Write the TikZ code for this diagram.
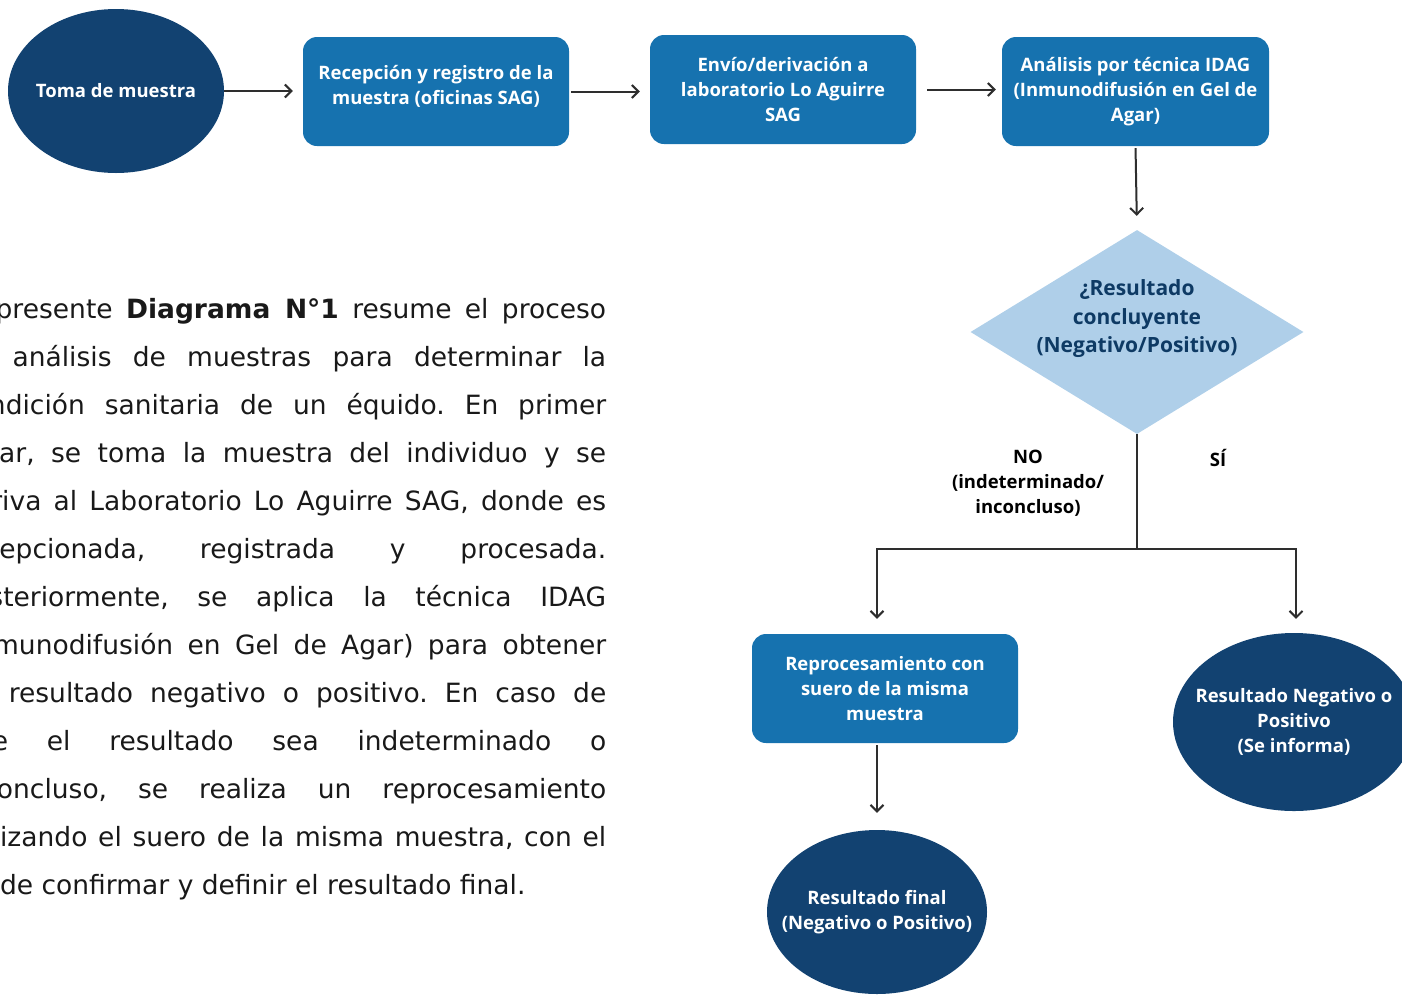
\documentclass[tikz,border=0pt]{standalone}
\usepackage{fontspec}
\usepackage{tikz}
\usetikzlibrary{shapes.geometric,arrows.meta}
\setmainfont{DejaVu Sans}
\newfontfamily\boxfont{Open Sans}
\definecolor{navy}{HTML}{124271}
\definecolor{midblue}{HTML}{1672AF}
\definecolor{paleblue}{HTML}{AFCFE9}
\definecolor{qtext}{HTML}{0E3A64}
\definecolor{linegray}{HTML}{2E2E2E}

\begin{document}
\begin{tikzpicture}[x=1pt,y=-1pt,
  oval/.style={ellipse,fill=navy,text=white,inner xsep=-30pt,inner ysep=-10pt,align=center,font=\boxfont\bfseries\fontsize{18.5}{25}\selectfont},
  stepbox/.style={rectangle,rounded corners=14pt,fill=midblue,text=white,minimum width=266pt,minimum height=109pt,inner sep=0pt,align=center,font=\boxfont\bfseries\fontsize{18.5}{25}\selectfont},
  branchlabel/.style={align=center,text=black,font=\boxfont\bfseries\fontsize{18.5}{25}\selectfont},
  arr/.style={-{Straight Barb[length=6.5pt,width=13pt]},draw=linegray,line width=2pt},
  link/.style={draw=linegray,line width=2pt}]
\useasboundingbox (0,0) rectangle (1402,994);
\node[anchor=base west,text width=648pt,align=justify,inner sep=0pt,text=black!90,font=\fontsize{26.5}{48}\selectfont] (texto) at (-42,318)
{\frenchspacing\tolerance=10000\hbadness=10000\hyphenpenalty=10000
El presente \textbf{Diagrama N°1} resume el proceso\linebreak
de análisis de muestras para determinar la\linebreak
condición sanitaria de un équido. En primer\linebreak
lugar, se toma la muestra del individuo y se\linebreak
deriva al Laboratorio Lo Aguirre SAG, donde es\linebreak
recepcionada, registrada y procesada.\linebreak
Posteriormente, se aplica la técnica IDAG\linebreak
(Inmunodifusión en Gel de Agar) para obtener\linebreak
un resultado negativo o positivo. En caso de\linebreak
que el resultado sea indeterminado o\linebreak
inconcluso, se realiza un reprocesamiento\linebreak
utilizando el suero de la misma muestra, con el\linebreak
fin de confirmar y definir el resultado final.};
\node[oval,minimum width=216pt,minimum height=164pt] (toma) at (116,91) {Toma de muestra};
\node[stepbox,text depth=14pt] (recep) at (436,91.5) {Recepción y registro de la\\muestra (oficinas SAG)};
\node[stepbox] (envio) at (783,89.5) {Envío/derivación a\\laboratorio Lo Aguirre\\SAG};
\node[stepbox,minimum width=267pt] (idag) at (1135.5,91.5) {Análisis por técnica IDAG\\(Inmunodifusión en Gel de\\Agar)};
\node[diamond,fill=paleblue,minimum width=333pt,minimum height=204pt,inner sep=0pt] (check) at (1137,332) {};
\node[align=center,text=qtext,font=\boxfont\bfseries\fontsize{21}{28.5}\selectfont] (checktext) at (1137,319) {¿Resultado\\concluyente\\(Negativo/Positivo)};
\node[stepbox] (reproc) at (885,688.5) {Reprocesamiento con\\suero de la misma\\muestra};
\node[oval,minimum width=242pt,minimum height=178pt] (informe) at (1294,722) {Resultado Negativo o\\Positivo\\(Se informa)};
\node[oval,minimum width=220pt,minimum height=164pt] (final) at (877,912) {Resultado final\\(Negativo o Positivo)};
\node[branchlabel] (nolabel) at (1028,483) {NO\\(indeterminado/\\inconcluso)};
\node[branchlabel] (silabel) at (1218,458) {SÍ};
\coordinate (split) at (1137,549);
\coordinate (nobranch) at (877,549);
\coordinate (sibranch) at (1296,549);
\draw[arr,shorten >=10pt] (toma.east) -- (recep.west |- toma.east);
\draw[arr,shorten <=2pt,shorten >=10pt] (recep.east) -- (recep.east -| envio.west);
\draw[arr,shorten <=11pt,shorten >=6pt] (envio.east) -- (envio.east -| idag.west);
\draw[arr,shorten <=2pt,shorten >=14pt] (idag.south) -- (check.north);
\draw[link] (check.south) -- (split);
\draw[arr,shorten >=15pt] (split) -- (nobranch) -- (nobranch |- reproc.north);
\draw[arr,shorten >=14pt] (split) -- (sibranch) -- (sibranch |- informe.north);
\draw[arr,shorten <=2pt,shorten >=17pt] (final.north |- reproc.south) -- (final.north);
\end{tikzpicture}
\end{document}
